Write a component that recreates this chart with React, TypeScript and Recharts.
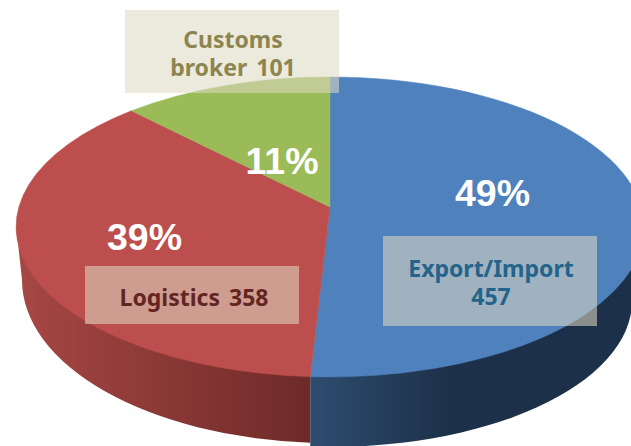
import { PieChart, Pie, Cell } from "recharts";

const categories = ["Export/Import", "Logistics", "Customs broker"];
const counts = [457, 358, 101];
const percentLabels = ["49%", "39%", "11%"];
const topColors = ["#4f81bd", "#bc4f4d", "#9bbb59"];

const labelLines = [["Export/Import", "457"], ["Logistics 358"], ["Customs", "broker 101"]];
const labelColors = ["#23638c", "#632523", "#8c8550"];

const chartData = categories.map((name, i) => ({ name, value: counts[i] }));

// layout of the overlay boxes, one per slice
const boxes = [
  { x: 383, y: 236, w: 214, h: 90, textX: 491, textY: 277, pctX: 492.5, pctY: 206 },
  { x: 85, y: 266, w: 214, h: 58, textX: 194, textY: 306, pctX: 144.5, pctY: 250 },
  { x: 125, y: 10, w: 214, h: 83, textX: 233, textY: 48, pctX: 282, pctY: 174 },
];

const X_STRETCH = 2.093; // ellipse width against its height
const APEX_DROP = 20; // apex sits above the ellipse centre

// lower edge of the side wall, it is not a copy of the top rim (perspective)
const wallRims = [
  { rx: 302, ry: 146, cy: 301 },
  { rx: 308, ry: 163, cy: 280 },
  { rx: 308, ry: 163, cy: 280 },
];

// clockwise degrees from 12 o'clock, nudged so the bottom seam leans left like the picture
const toEllipseAngle = (recharts: number) => {
  const theta = 90 - recharts;
  const half = Math.sin((theta * Math.PI) / 360);
  return theta + 4 * half * half;
};

function PieSlice(props: any) {
  const { cx, cy, outerRadius, startAngle, endAngle, fill, index } = props;
  const ry = outerRadius;
  const rx = outerRadius * X_STRETCH;
  const ey = cy + APEX_DROP;
  const at = (deg: number) => {
    const r = (deg * Math.PI) / 180;
    return [cx + rx * Math.sin(r), ey - ry * Math.cos(r)];
  };
  const a0 = toEllipseAngle(startAngle);
  const a1 = toEllipseAngle(endAngle);
  const [sx, sy] = at(a0);
  const [ex, ey2] = at(a1);
  const large = a1 - a0 > 180 ? 1 : 0;
  const top = `M${cx},${cy} L${sx},${sy} A${rx},${ry} 0 ${large} 1 ${ex},${ey2} Z`;

  // side wall only on the part of the rim that faces the viewer
  const w0 = Math.max(a0, 90);
  const w1 = Math.min(a1, 270);
  let wall = null;
  if (w1 > w0) {
    const rim = wallRims[index];
    const below = (x: number) => {
      const s = Math.max(-1, Math.min(1, (x - cx) / rim.rx));
      return [cx + rim.rx * s, rim.cy + rim.ry * Math.sqrt(1 - s * s)];
    };
    const [ax, ay] = at(w0);
    const [bx, by] = at(w1);
    const [lax, lay] = below(ax);
    const [lbx, lby] = below(bx);
    // upper edge pulled up 2px so it tucks under the top face, no light line along the rim
    const d =
      `M${ax},${ay - 2} A${rx},${ry} 0 0 1 ${bx},${by - 2} L${lbx},${lby} ` +
      `A${rim.rx},${rim.ry} 0 0 0 ${lax},${lay} Z`;
    wall = <path d={d} fill={`url(#wall${index})`} stroke="none" />;
  }

  return (
    <g>
      {wall}
      <path d={top} fill={fill} stroke={fill} strokeWidth={0.5} />
    </g>
  );
}

function SliceLabel(props: any) {
  const { index } = props;
  const box = boxes[index];
  const lines = labelLines[index];
  return (
    <g>
      <rect x={box.x} y={box.y} width={box.w} height={box.h} fill="rgb(221,217,195)" fillOpacity={0.57} />
      <text
        textAnchor="middle"
        fontFamily="'Noto Sans', sans-serif"
        fontWeight={700}
        fontSize={23}
        wordSpacing={3}
        fill={labelColors[index]}
      >
        {lines.map((line, i) => (
          <tspan key={line} x={box.textX} y={box.textY + i * 28}>
            {line}
          </tspan>
        ))}
      </text>
      <text
        x={box.pctX}
        y={box.pctY}
        textAnchor="middle"
        fontFamily="'Liberation Sans', Arial, sans-serif"
        fontWeight={700}
        fontSize={37.5}
        fill="#ffffff"
      >
        {percentLabels[index]}
      </text>
    </g>
  );
}

export default function App() {
  return (
    <div style={{ position: "absolute", left: 0, top: 0, width: 631, height: 446, overflow: "hidden", background: "#fff" }}>
      <PieChart width={631} height={446} margin={{ top: 0, right: 0, bottom: 0, left: 0 }}>
        <defs>
          <linearGradient id="wall0" gradientUnits="userSpaceOnUse" x1="310" y1="0" x2="450" y2="0">
            <stop offset="0%" stopColor="#2d4d70" />
            <stop offset="100%" stopColor="#1d3049" />
          </linearGradient>
          <linearGradient id="wall1" gradientUnits="userSpaceOnUse" x1="20" y1="0" x2="310" y2="0">
            <stop offset="0%" stopColor="#a64744" />
            <stop offset="100%" stopColor="#6e2a28" />
          </linearGradient>
        </defs>
        <Pie
          data={chartData}
          dataKey="value"
          nameKey="name"
          cx={330}
          cy={207}
          innerRadius={0}
          outerRadius={150}
          startAngle={90}
          endAngle={-270}
          stroke="none"
          isAnimationActive={false}
          shape={PieSlice}
          label={SliceLabel}
          labelLine={false}
        >
          {chartData.map((d, i) => (
            <Cell key={d.name} fill={topColors[i]} />
          ))}
        </Pie>
      </PieChart>
    </div>
  );
}
